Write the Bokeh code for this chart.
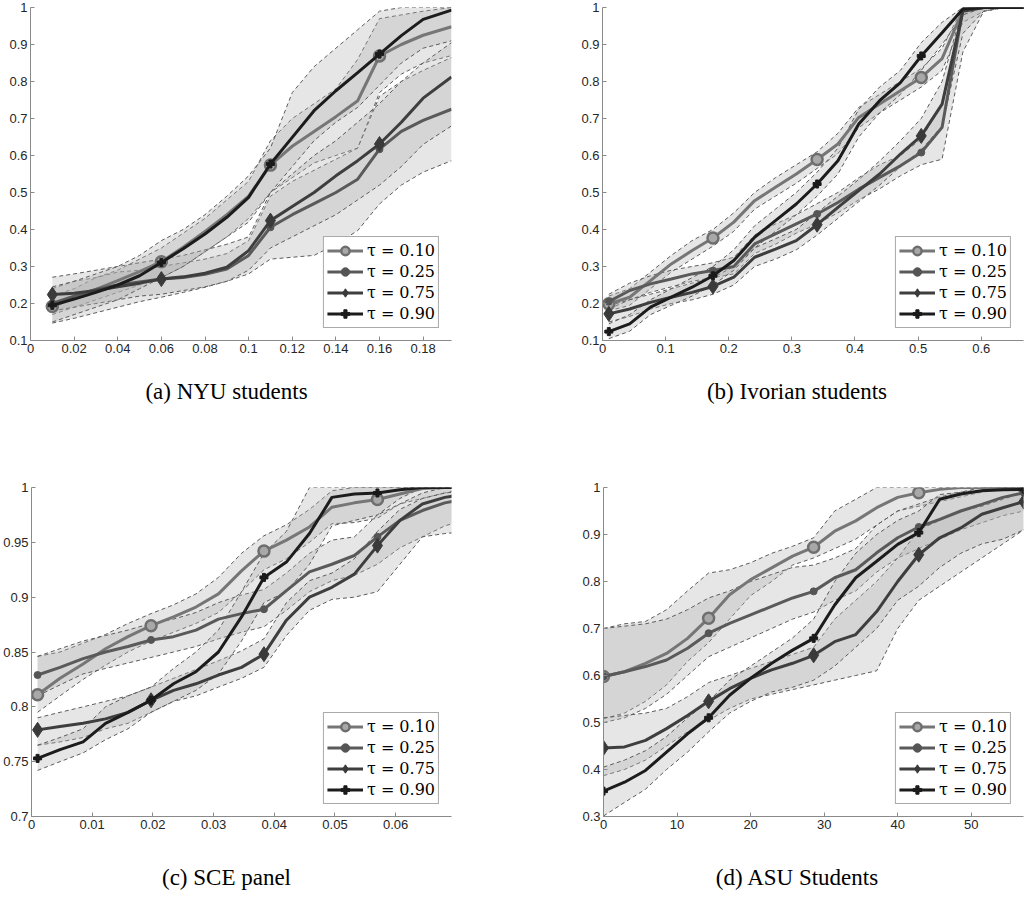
from bokeh.plotting import figure
from bokeh.layouts import column, row
from bokeh.models import Range1d, FixedTicker, Legend, LegendItem, PrintfTickFormatter, Div, Spacer
from bokeh.embed import file_html
from bokeh.resources import INLINE

taus = ["0.10", "0.25", "0.75", "0.90"]

# ---------------- Panel (a) NYU students ----------------
a_x = [0.01, 0.02, 0.03, 0.04, 0.05, 0.06, 0.07, 0.08, 0.09, 0.10, 0.11, 0.12, 0.13, 0.14, 0.15, 0.16, 0.17, 0.18, 0.193]
a_t10 = [0.192, 0.215, 0.238, 0.262, 0.286, 0.313, 0.352, 0.395, 0.44, 0.49, 0.574, 0.625, 0.665, 0.705, 0.748, 0.869, 0.9, 0.925, 0.948]
a_t25 = [0.20, 0.22, 0.238, 0.25, 0.258, 0.266, 0.27, 0.279, 0.293, 0.33, 0.406, 0.44, 0.47, 0.50, 0.536, 0.617, 0.665, 0.695, 0.725]
a_t75 = [0.224, 0.228, 0.235, 0.245, 0.255, 0.266, 0.272, 0.282, 0.298, 0.343, 0.424, 0.462, 0.50, 0.545, 0.586, 0.631, 0.69, 0.755, 0.812]
a_t90 = [0.195, 0.212, 0.23, 0.25, 0.275, 0.311, 0.348, 0.388, 0.433, 0.487, 0.577, 0.649, 0.721, 0.775, 0.824, 0.874, 0.924, 0.968, 0.993]
a_lo10 = [0.17, 0.19, 0.21, 0.23, 0.25, 0.27, 0.30, 0.34, 0.38, 0.43, 0.50, 0.54, 0.58, 0.60, 0.62, 0.77, 0.82, 0.85, 0.87]
a_hi10 = [0.22, 0.24, 0.27, 0.29, 0.32, 0.35, 0.39, 0.43, 0.48, 0.53, 0.64, 0.70, 0.74, 0.78, 0.86, 0.97, 0.98, 0.99, 1.0]
a_lo25 = [0.147, 0.16, 0.175, 0.19, 0.205, 0.217, 0.23, 0.244, 0.26, 0.28, 0.32, 0.325, 0.33, 0.36, 0.397, 0.469, 0.52, 0.555, 0.586]
a_hi25 = [0.24, 0.26, 0.27, 0.285, 0.29, 0.30, 0.31, 0.32, 0.335, 0.37, 0.49, 0.53, 0.56, 0.59, 0.62, 0.76, 0.80, 0.83, 0.865]
a_lo75 = [0.18, 0.19, 0.20, 0.21, 0.22, 0.225, 0.235, 0.245, 0.26, 0.29, 0.35, 0.38, 0.41, 0.44, 0.48, 0.52, 0.57, 0.63, 0.68]
a_hi75 = [0.271, 0.28, 0.29, 0.30, 0.31, 0.32, 0.33, 0.345, 0.36, 0.38, 0.50, 0.55, 0.60, 0.64, 0.69, 0.74, 0.80, 0.85, 0.905]
a_lo90 = [0.15, 0.17, 0.19, 0.21, 0.24, 0.27, 0.30, 0.34, 0.38, 0.42, 0.50, 0.57, 0.64, 0.69, 0.73, 0.79, 0.85, 0.89, 0.91]
a_hi90 = [0.245, 0.26, 0.28, 0.30, 0.33, 0.37, 0.40, 0.44, 0.49, 0.545, 0.62, 0.77, 0.84, 0.89, 0.94, 0.99, 1.0, 1.0, 1.0]
a_xticks = [0, 0.02, 0.04, 0.06, 0.08, 0.1, 0.12, 0.14, 0.16, 0.18]
a_yticks = [0.1, 0.2, 0.3, 0.4, 0.5, 0.6, 0.7, 0.8, 0.9, 1]

# ---------------- Panel (b) Ivorian students ----------------
b_x = [0.01, 0.043, 0.076, 0.109, 0.142, 0.175, 0.208, 0.241, 0.274, 0.307, 0.34, 0.373, 0.406, 0.439, 0.472, 0.505, 0.538, 0.571, 0.604, 0.637, 0.67]
b_t10 = [0.199, 0.217, 0.262, 0.307, 0.343, 0.377, 0.42, 0.478, 0.514, 0.55, 0.589, 0.631, 0.703, 0.739, 0.775, 0.811, 0.862, 0.992, 1.0, 1.0, 1.0]
b_t25 = [0.205, 0.235, 0.253, 0.266, 0.28, 0.289, 0.30, 0.361, 0.388, 0.415, 0.442, 0.473, 0.509, 0.541, 0.572, 0.608, 0.676, 0.995, 1.0, 1.0, 1.0]
b_t75 = [0.172, 0.185, 0.203, 0.217, 0.23, 0.246, 0.271, 0.325, 0.347, 0.37, 0.413, 0.46, 0.505, 0.55, 0.604, 0.653, 0.739, 0.99, 1.0, 1.0, 1.0]
b_t90 = [0.124, 0.145, 0.19, 0.217, 0.244, 0.275, 0.316, 0.379, 0.424, 0.469, 0.523, 0.586, 0.685, 0.748, 0.797, 0.869, 0.932, 0.996, 1.0, 1.0, 1.0]
b_lo10 = [0.18, 0.195, 0.24, 0.285, 0.32, 0.355, 0.395, 0.455, 0.49, 0.525, 0.565, 0.605, 0.675, 0.715, 0.75, 0.785, 0.83, 0.96, 0.99, 1.0, 1.0]
b_hi10 = [0.22, 0.24, 0.285, 0.33, 0.37, 0.40, 0.445, 0.50, 0.54, 0.575, 0.61, 0.66, 0.73, 0.765, 0.80, 0.835, 0.89, 1.0, 1.0, 1.0, 1.0]
b_lo25 = [0.185, 0.21, 0.23, 0.245, 0.26, 0.27, 0.28, 0.335, 0.36, 0.39, 0.415, 0.445, 0.48, 0.51, 0.545, 0.575, 0.59, 0.88, 0.99, 1.0, 1.0]
b_hi25 = [0.225, 0.255, 0.275, 0.29, 0.30, 0.31, 0.325, 0.385, 0.415, 0.44, 0.47, 0.50, 0.54, 0.575, 0.60, 0.645, 0.74, 1.0, 1.0, 1.0, 1.0]
b_lo75 = [0.15, 0.165, 0.185, 0.20, 0.21, 0.225, 0.25, 0.30, 0.32, 0.345, 0.385, 0.43, 0.475, 0.52, 0.57, 0.615, 0.68, 0.93, 0.99, 1.0, 1.0]
b_hi75 = [0.195, 0.21, 0.225, 0.24, 0.255, 0.27, 0.30, 0.35, 0.375, 0.40, 0.445, 0.49, 0.535, 0.585, 0.64, 0.70, 0.80, 1.0, 1.0, 1.0, 1.0]
b_lo90 = [0.105, 0.125, 0.17, 0.195, 0.22, 0.25, 0.29, 0.35, 0.395, 0.44, 0.49, 0.55, 0.65, 0.715, 0.765, 0.83, 0.90, 0.98, 1.0, 1.0, 1.0]
b_hi90 = [0.145, 0.17, 0.21, 0.24, 0.27, 0.30, 0.345, 0.41, 0.455, 0.50, 0.555, 0.62, 0.725, 0.785, 0.83, 0.905, 0.96, 1.0, 1.0, 1.0, 1.0]
b_xticks = [0, 0.1, 0.2, 0.3, 0.4, 0.5, 0.6]
b_yticks = [0.1, 0.2, 0.3, 0.4, 0.5, 0.6, 0.7, 0.8, 0.9, 1]

# ---------------- Panel (c) SCE panel ----------------
c_x = [0.001, 0.0047, 0.0085, 0.0122, 0.0159, 0.0197, 0.0234, 0.0271, 0.0308, 0.0346, 0.0383, 0.042, 0.0458, 0.0495, 0.0532, 0.057, 0.0607, 0.0644, 0.0681, 0.0719]
c_t10 = [0.811, 0.826, 0.839, 0.853, 0.864, 0.874, 0.882, 0.891, 0.903, 0.924, 0.942, 0.952, 0.964, 0.982, 0.986, 0.989, 0.994, 0.999, 1.0, 1.0]
c_t25 = [0.829, 0.836, 0.844, 0.85, 0.855, 0.861, 0.864, 0.87, 0.88, 0.885, 0.889, 0.906, 0.923, 0.93, 0.938, 0.955, 0.97, 0.979, 0.986, 0.99]
c_t75 = [0.779, 0.782, 0.785, 0.789, 0.795, 0.806, 0.815, 0.821, 0.829, 0.836, 0.848, 0.879, 0.90, 0.909, 0.921, 0.947, 0.97, 0.985, 0.991, 0.994]
c_t90 = [0.753, 0.761, 0.768, 0.785, 0.795, 0.806, 0.821, 0.832, 0.85, 0.882, 0.918, 0.932, 0.958, 0.991, 0.994, 0.995, 0.998, 1.0, 1.0, 1.0]
c_lo10 = [0.795, 0.81, 0.825, 0.838, 0.85, 0.86, 0.868, 0.876, 0.886, 0.905, 0.925, 0.935, 0.95, 0.967, 0.968, 0.972, 0.985, 0.99, 0.995, 1.0]
c_hi10 = [0.846, 0.85, 0.858, 0.866, 0.876, 0.885, 0.893, 0.903, 0.918, 0.94, 0.956, 0.966, 0.98, 0.997, 1.0, 1.0, 1.0, 1.0, 1.0, 1.0]
c_lo25 = [0.81, 0.82, 0.83, 0.835, 0.84, 0.845, 0.85, 0.855, 0.862, 0.868, 0.873, 0.888, 0.905, 0.915, 0.92, 0.93, 0.945, 0.955, 0.965, 0.971]
c_hi25 = [0.846, 0.853, 0.86, 0.865, 0.87, 0.876, 0.88, 0.886, 0.895, 0.902, 0.907, 0.922, 0.94, 0.952, 0.955, 0.975, 0.985, 0.995, 1.0, 1.0]
c_lo75 = [0.765, 0.768, 0.772, 0.78, 0.785, 0.795, 0.805, 0.81, 0.818, 0.826, 0.836, 0.865, 0.888, 0.898, 0.9, 0.905, 0.93, 0.955, 0.958, 0.96]
c_hi75 = [0.79, 0.795, 0.80, 0.805, 0.81, 0.818, 0.826, 0.834, 0.842, 0.851, 0.862, 0.895, 0.915, 0.922, 0.935, 0.96, 0.98, 0.99, 0.995, 0.997]
c_lo90 = [0.742, 0.75, 0.758, 0.77, 0.78, 0.795, 0.805, 0.815, 0.83, 0.86, 0.895, 0.905, 0.93, 0.965, 0.97, 0.975, 0.99, 1.0, 1.0, 1.0]
c_hi90 = [0.765, 0.772, 0.78, 0.80, 0.81, 0.818, 0.835, 0.85, 0.87, 0.905, 0.94, 0.96, 1.0, 1.0, 1.0, 1.0, 1.0, 1.0, 1.0, 1.0]
c_xticks = [0, 0.01, 0.02, 0.03, 0.04, 0.05, 0.06]
c_yticks = [0.7, 0.75, 0.8, 0.85, 0.9, 0.95, 1]

# ---------------- Panel (d) ASU Students ----------------
d_x = [0, 2.86, 5.71, 8.57, 11.43, 14.29, 17.14, 20, 22.86, 25.71, 28.57, 31.43, 34.29, 37.14, 40, 42.86, 45.71, 48.57, 51.43, 54.29, 57.14]
d_t10 = [0.598, 0.608, 0.626, 0.647, 0.679, 0.722, 0.772, 0.804, 0.829, 0.854, 0.873, 0.907, 0.929, 0.957, 0.979, 0.989, 0.996, 1.0, 1.0, 1.0, 1.0]
d_t25 = [0.598, 0.608, 0.619, 0.633, 0.658, 0.69, 0.711, 0.729, 0.747, 0.765, 0.779, 0.808, 0.825, 0.861, 0.893, 0.916, 0.932, 0.95, 0.964, 0.979, 0.989]
d_t75 = [0.446, 0.448, 0.462, 0.487, 0.515, 0.545, 0.572, 0.594, 0.612, 0.626, 0.643, 0.672, 0.687, 0.736, 0.80, 0.857, 0.893, 0.914, 0.943, 0.957, 0.97]
d_t90 = [0.354, 0.373, 0.398, 0.437, 0.476, 0.51, 0.558, 0.594, 0.626, 0.654, 0.679, 0.75, 0.808, 0.843, 0.879, 0.904, 0.975, 0.986, 0.993, 0.995, 0.996]
d_lo10 = [0.508, 0.52, 0.545, 0.58, 0.63, 0.67, 0.72, 0.77, 0.80, 0.835, 0.85, 0.87, 0.89, 0.92, 0.95, 0.96, 0.97, 0.98, 0.99, 1.0, 1.0]
d_hi10 = [0.70, 0.71, 0.715, 0.74, 0.78, 0.818, 0.825, 0.84, 0.86, 0.875, 0.893, 0.95, 0.975, 1.0, 1.0, 1.0, 1.0, 1.0, 1.0, 1.0, 1.0]
d_lo25 = [0.50, 0.51, 0.53, 0.56, 0.60, 0.64, 0.66, 0.68, 0.70, 0.72, 0.735, 0.76, 0.78, 0.82, 0.85, 0.87, 0.89, 0.91, 0.925, 0.94, 0.95]
d_hi25 = [0.70, 0.705, 0.71, 0.72, 0.74, 0.765, 0.78, 0.80, 0.815, 0.83, 0.835, 0.85, 0.87, 0.92, 0.95, 0.965, 0.98, 0.99, 1.0, 1.0, 1.0]
d_lo75 = [0.387, 0.40, 0.42, 0.45, 0.48, 0.505, 0.53, 0.55, 0.56, 0.57, 0.58, 0.59, 0.60, 0.61, 0.70, 0.76, 0.79, 0.82, 0.85, 0.88, 0.91]
d_hi75 = [0.51, 0.515, 0.52, 0.53, 0.555, 0.585, 0.60, 0.615, 0.63, 0.645, 0.66, 0.72, 0.76, 0.80, 0.85, 0.91, 0.93, 0.95, 0.96, 0.975, 0.99]
d_lo90 = [0.301, 0.33, 0.358, 0.40, 0.437, 0.48, 0.52, 0.545, 0.565, 0.575, 0.59, 0.62, 0.66, 0.70, 0.76, 0.79, 0.83, 0.86, 0.88, 0.89, 0.91]
d_hi90 = [0.405, 0.42, 0.44, 0.47, 0.51, 0.545, 0.59, 0.62, 0.65, 0.68, 0.72, 0.80, 0.86, 0.90, 0.93, 0.95, 0.985, 0.99, 0.995, 1.0, 1.0]
d_xticks = [0, 10, 20, 30, 40, 50]
d_yticks = [0.3, 0.4, 0.5, 0.6, 0.7, 0.8, 0.9, 1]

captions = ["(a) NYU students", "(b) Ivorian students", "(c) SCE panel", "(d) ASU Students"]

# ---------------- styling ----------------
LINE_COLORS = ["#767676", "#5a5a5a", "#3e3e3e", "#1c1c1c"]
MARKERS = [
    dict(marker="circle", size=11, fill_color="#a8a8a8", line_color="#6e6e6e", line_width=2.5),
    dict(marker="circle", size=7, fill_color="#555555", line_color="#555555", line_width=1),
    dict(marker="diamond", size=15, fill_color="#3a3a3a", line_color="#3a3a3a", line_width=1),
    dict(marker="plus", size=8, fill_color="#1a1a1a", line_color="#1a1a1a", line_width=1),
]
BAND_FILL = "#b0b0b0"
BAND_ALPHA = 0.32
EDGE_COLOR = "#5c5c5c"


def make_panel(x, lines, bands, marker_idx, xr, yr, xticks, yticks,
               width, height, mb_left, mb_right, mb_top, mb_bottom):
    p = figure(width=width, height=height, x_range=Range1d(*xr), y_range=Range1d(*yr),
               output_backend="svg", toolbar_location=None,
               min_border_left=mb_left, min_border_right=mb_right,
               min_border_top=mb_top, min_border_bottom=mb_bottom)
    p.grid.visible = False
    p.outline_line_color = None
    p.background_fill_color = "white"
    p.border_fill_color = "white"

    for ax, ticks in ((p.xaxis[0], xticks), (p.yaxis[0], yticks)):
        ax.ticker = FixedTicker(ticks=ticks)
        ax.formatter = PrintfTickFormatter(format="%g")
        ax.axis_line_color = "#8a8a8a"
        ax.axis_line_width = 1
        ax.major_tick_line_color = "#8a8a8a"
        ax.major_tick_in = 4
        ax.major_tick_out = 0
        ax.minor_tick_line_color = None
        ax.major_label_text_font = "Liberation Sans"
        ax.major_label_text_font_size = "13px"
        ax.major_label_text_color = "#262626"
        ax.major_label_standoff = 3

    # confidence bands
    for lo, hi in bands:
        p.varea(x=x, y1=lo, y2=hi, fill_color=BAND_FILL, fill_alpha=BAND_ALPHA)
        p.line(x=x, y=lo, line_color=EDGE_COLOR, line_width=1, line_dash="4 3")
        p.line(x=x, y=hi, line_color=EDGE_COLOR, line_width=1, line_dash="4 3")

    items = []
    for k, y in enumerate(lines):
        lr = p.line(x=x, y=y, line_color=LINE_COLORS[k], line_width=3)
        mx = [x[i] for i in marker_idx]
        my = [y[i] for i in marker_idx]
        sr = p.scatter(x=mx, y=my, **MARKERS[k])
        items.append(LegendItem(label="\u03c4 = " + taus[k], renderers=[lr, sr]))

    leg = Legend(items=items, location="bottom_right")
    leg.margin = 12
    leg.padding = 3
    leg.spacing = 0
    leg.label_height = 21
    leg.glyph_height = 21
    leg.glyph_width = 36
    leg.label_standoff = 4
    leg.label_text_font = "DejaVu Serif"
    leg.label_text_font_size = "16px"
    leg.label_text_color = "black"
    leg.border_line_color = "#555555"
    leg.border_line_width = 1
    leg.background_fill_color = "white"
    leg.background_fill_alpha = 1
    p.add_layout(leg)
    return p


def caption_div(text, width, height, line_h):
    return Div(text=text, width=width, height=height, margin=0,
               styles={"font-family": "Liberation Serif", "font-size": "23px",
                       "line-height": f"{line_h}px", "text-align": "center",
                       "color": "black", "white-space": "nowrap"})


pa = make_panel(a_x, [a_t10, a_t25, a_t75, a_t90],
                [(a_lo10, a_hi10), (a_lo25, a_hi25), (a_lo75, a_hi75), (a_lo90, a_hi90)],
                [0, 5, 10, 15], (0, 0.193), (0.1, 1), a_xticks, a_yticks,
                548, 365, 30, 97, 7, 25)
pb = make_panel(b_x, [b_t10, b_t25, b_t75, b_t90],
                [(b_lo10, b_hi10), (b_lo25, b_hi25), (b_lo75, b_hi75), (b_lo90, b_hi90)],
                [0, 5, 10, 15], (0, 0.667), (0.1, 1), b_xticks, b_yticks,
                478, 365, 54, 3, 7, 25)
pc = make_panel(c_x, [c_t10, c_t25, c_t75, c_t90],
                [(c_lo10, c_hi10), (c_lo25, c_hi25), (c_lo75, c_hi75), (c_lo90, c_hi90)],
                [0, 5, 10, 15], (0, 0.0692), (0.7, 1), c_xticks, c_yticks,
                548, 361, 30, 97, 7, 25)
pd_ = make_panel(d_x, [d_t10, d_t25, d_t75, d_t90],
                 [(d_lo10, d_hi10), (d_lo25, d_hi25), (d_lo75, d_hi75), (d_lo90, d_hi90)],
                 [0, 5, 10, 15, 20], (0, 57.1), (0.3, 1), d_xticks, d_yticks,
                 478, 361, 55, 3, 7, 25)

cap_row1 = row(caption_div(captions[0], 453, 115, 54), Spacer(width=115, height=115, margin=0),
               caption_div(captions[1], 458, 115, 54))
cap_row2 = row(caption_div(captions[2], 453, 66, 74), Spacer(width=115, height=66, margin=0),
               caption_div(captions[3], 458, 66, 74))

layout = column(row(pa, pb), cap_row1, row(pc, pd_), cap_row2)
open("out.html", "w").write(file_html(layout, INLINE))
